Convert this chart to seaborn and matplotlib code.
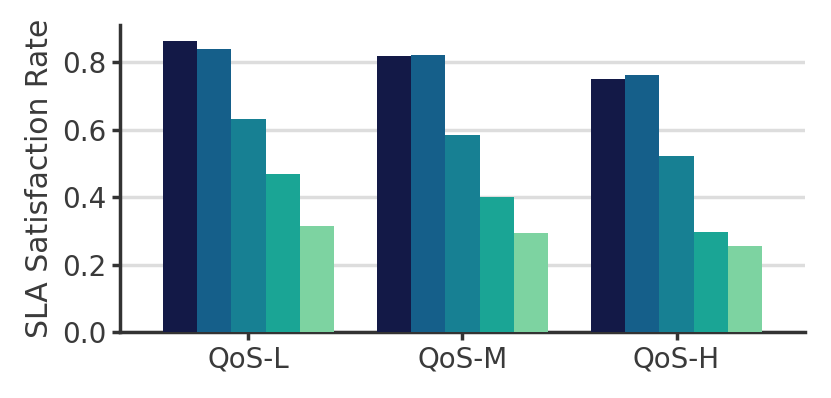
import matplotlib
matplotlib.use("Agg")
import matplotlib.pyplot as plt
import seaborn as sns
import pandas as pd

# data
qos_levels = ["QoS-L", "QoS-M", "QoS-H"]
methods = ["M1", "M2", "M3", "M4", "M5"]
m1 = [0.862, 0.817, 0.749]
m2 = [0.838, 0.821, 0.761]
m3 = [0.633, 0.585, 0.522]
m4 = [0.468, 0.399, 0.297]
m5 = [0.315, 0.293, 0.254]

colors = ["#131947", "#155f8a", "#178093", "#1aa595", "#7dd3a1"]

rows = []
for name, vals in zip(methods, [m1, m2, m3, m4, m5]):
    for q, v in zip(qos_levels, vals):
        rows.append({"QoS": q, "Method": name, "Rate": v})
df = pd.DataFrame(rows)

sns.set_style("white")
plt.rcParams["font.family"] = ["DejaVu Sans"]
txt = "#3a3a3a"

fig = plt.figure(figsize=(8.31, 3.98), dpi=100)
ax = fig.add_axes([0.1444, 0.1658, 0.8243, 0.7712])

sns.barplot(data=df, x="QoS", y="Rate", hue="Method", order=qos_levels,
            hue_order=methods, palette=colors, width=0.8, saturation=1,
            legend=False, ax=ax, zorder=3, linewidth=0)

ax.set_xlim(-0.6, 2.6)
ax.set_ylim(0, 0.91)
ax.set_yticks([0.0, 0.2, 0.4, 0.6, 0.8])
ax.set_yticklabels(["0.0", "0.2", "0.4", "0.6", "0.8"])
ax.yaxis.grid(True, color="#dddddd", linewidth=2.5, zorder=0)
ax.set_axisbelow(True)
ax.set_xlabel("")
ax.set_ylabel("SLA Satisfaction Rate", fontsize=21.5, color=txt, labelpad=6)

for s in ["top", "right"]:
    ax.spines[s].set_visible(False)
for s in ["left", "bottom"]:
    ax.spines[s].set_color("#333333")
    ax.spines[s].set_linewidth(2.5)

ax.tick_params(axis="both", labelsize=20, colors=txt, length=6, width=2.5,
               direction="out", left=True, bottom=True)
ax.tick_params(axis="both", color="#333333")

fig.savefig("out.png", dpi=100)
